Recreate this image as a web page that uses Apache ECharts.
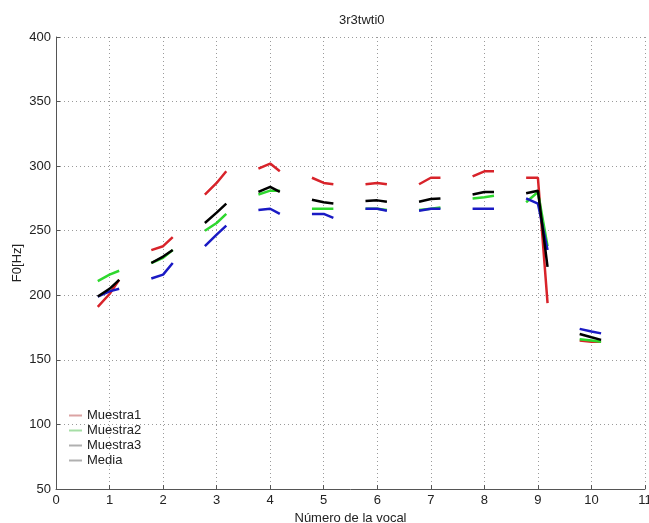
<!DOCTYPE html>
<html>
<head>
<meta charset="utf-8">
<script src="https://cdn.jsdelivr.net/npm/echarts@6/dist/echarts.min.js"></script>
<style>
  html, body { margin: 0; padding: 0; background: #fff; overflow: hidden; }
  #f0 { width: 649px; height: 523px; }
</style>
</head>
<body>
<div id="f0"></div>
<script>
// posiciones de cada muestra (3 por vocal)
var xs = [0.78, 1, 1.18,  1.78, 2, 2.18,  2.78, 3, 3.18,  3.78, 4, 4.18,  4.78, 5, 5.18,
          5.78, 6, 6.18,  6.78, 7, 7.18,  7.78, 8, 8.18,  8.78, 9, 9.18,  9.78, 10, 10.18];

var muestra1 = [191, 201, 212,  235, 238, 245,  278, 287, 296,  298, 302, 296,  291, 287, 286,
                286, 287, 286,  286, 291, 291,  292, 296, 296,  291, 291, 194,  165, 164, 164];
var muestra2 = [211, 216, 219,  225, 229, 235,  250, 256, 263,  278, 281, 281,  267, 267, 267,
                267, 267, 266,  266, 267, 268,  275, 276, 277,  272, 280, 238,  166, 165, 164];
var muestra3 = [199, 203, 205,  213, 216, 225,  238, 247, 254,  266, 267, 263,  263, 263, 260,
                267, 267, 265.5, 265.5, 267, 267, 267, 267, 267,  275, 271, 235,  174, 172, 170.5];
var media    = [199, 205, 212,  225, 230, 235,  256, 264, 271,  280, 284, 280,  274, 272, 271,
                273, 273.5, 272.5, 272.5, 274.5, 275, 278, 280, 280,  279, 281, 222,  170, 167.5, 165.5];

var nombres = ['Muestra1', 'Muestra2', 'Muestra3', 'Media'];
var colores = ['#d8232a', '#2ed82e', '#1a1ac4', '#000000'];
var coloresLeyenda = ['#dba3a3', '#a6dea6', '#b0b0b0', '#b0b0b0'];

// separa cada vocal con un null para que los tramos no se unan
function tramos(vals) {
    var out = [];
    for (var i = 0; i < vals.length; i++) {
        if (i > 0 && i % 3 === 0) out.push([null, null]);
        out.push([xs[i], vals[i]]);
    }
    return out;
}

var chart = echarts.init(document.getElementById('f0'));
var series = [muestra1, muestra2, muestra3, media].map(function (v, k) {
    return {
        name: nombres[k],
        type: 'line',
        data: tramos(v),
        showSymbol: false,
        connectNulls: false,
        color: colores[k],
        lineStyle: { width: 2.5, color: colores[k] }
    };
});

var ejeTexto = { color: '#222', fontSize: 13, fontFamily: 'Liberation Sans, Arial' };
var rejilla = { show: true, lineStyle: { color: '#9a9a9a', type: [1, 3], width: 1 } };

chart.setOption({
    animation: false,
    title: {
        text: '3r3twti0',
        left: 334, top: 9,
        textStyle: { color: '#222', fontSize: 13, fontWeight: 'normal', fontFamily: 'Liberation Sans, Arial' }
    },
    // etiqueta del eje Y colocada a mano
    graphic: [{
        type: 'text',
        x: 17, y: 263,
        rotation: Math.PI / 2,
        style: {
            text: 'F0[Hz]', fill: '#222', fontSize: 13, fontFamily: 'Liberation Sans, Arial',
            align: 'center', verticalAlign: 'middle'
        }
    }],
    legend: {
        orient: 'vertical',
        left: 64, top: 404,
        itemWidth: 13, itemHeight: 2, itemGap: 2,
        icon: 'rect',
        textStyle: { color: '#222', fontSize: 13, fontFamily: 'Liberation Sans, Arial' },
        data: nombres.map(function (n, k) {
            return {
                name: n,
                itemStyle: { color: coloresLeyenda[k] },
                lineStyle: { color: coloresLeyenda[k] }
            };
        })
    },
    grid: { left: 56, right: 4, top: 37, bottom: 34, outerBoundsMode: 'none' },
    xAxis: {
        type: 'value', min: 0, max: 11, interval: 1,
        name: 'Número de la vocal', nameLocation: 'middle', nameGap: 22,
        nameTextStyle: ejeTexto,
        axisLine: { onZero: false, lineStyle: { color: '#555' } },
        axisTick: { inside: true, length: 4, lineStyle: { color: '#555' } },
        axisLabel: Object.assign({ margin: 5 }, ejeTexto),
        splitLine: rejilla
    },
    yAxis: {
        type: 'value', min: 50, max: 400, interval: 50,
        axisLine: { show: true, lineStyle: { color: '#555' } },
        axisTick: { show: true, inside: true, length: 4, lineStyle: { color: '#555' } },
        axisLabel: Object.assign({ margin: 5 }, ejeTexto),
        splitLine: rejilla
    },
    series: series
});
</script>
</body>
</html>
